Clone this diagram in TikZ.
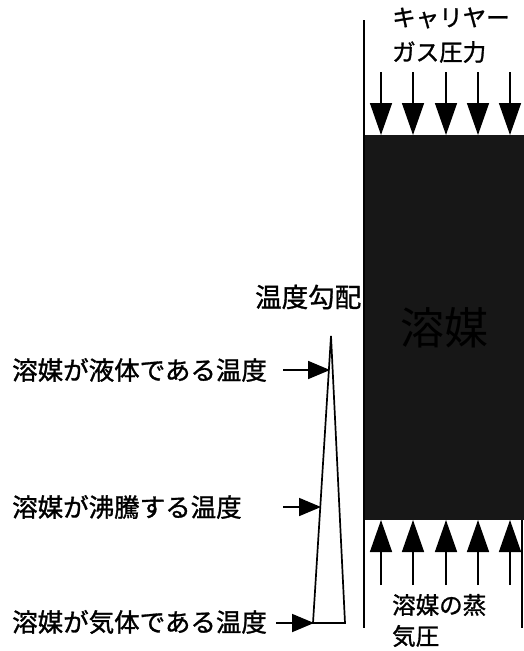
\documentclass[tikz,border=0pt]{standalone}
\usepackage{fontspec}
\setmainfont{Noto Sans CJK JP}[AutoFakeBold=1.2]
\usetikzlibrary{arrows.meta}
\begin{document}
\begin{tikzpicture}[x=1pt,y=-1pt,
  lbl/.style={inner sep=0pt,anchor=west,font=\fontsize{25.5}{28}\selectfont\bfseries},
  toplbl/.style={inner sep=0pt,anchor=west,font=\fontsize{23.5}{26}\selectfont\bfseries},
  bigarrow/.style={line width=1.5pt,-{Triangle[length=32pt,width=22pt]}},
  smallarrow/.style={line width=1.8pt,-{Triangle[length=22pt,width=18pt]}},
  wall/.style={line width=2pt}]
\useasboundingbox (0,0) rectangle (524,651);
% labels
\node[toplbl] (t1) at (392,18) {キャリヤー};
\node[toplbl] (t2) at (392,52) {ガス圧力};
\node[toplbl] (b1) at (392,605) {溶媒の蒸};
\node[toplbl] (b2) at (392,636) {気圧};
\node[inner sep=0pt,anchor=west,font=\fontsize{26.5}{29}\selectfont\bfseries] (grad) at (255,297) {温度勾配};
\node[lbl] (l1) at (12,370) {溶媒が液体である温度};
\node[lbl] (l2) at (12,507) {溶媒が沸騰する温度};
\node[lbl] (l3) at (12,622) {溶媒が気体である温度};
% block
\node[fill=black!91,draw=none,inner sep=0pt,minimum width=160pt,minimum height=385pt,
      font=\fontsize{44}{48}\selectfont,text=black] (block) at (444,327.5) {溶媒};
% walls
\coordinate (wt) at (364,20);
\coordinate (wb) at (364,628);
\draw[wall] (wt) -- (wb);
\coordinate (rt) at (522,520);
\coordinate (rb) at (522,628);
\draw[wall] (rt) -- (rb);
% top and bottom arrows
\foreach \x [count=\i] in {381,413,446,478,510}{
  \coordinate (ta\i) at (\x,72);
  \coordinate (tb\i) at (\x,135);
  \draw[bigarrow] (ta\i) -- (tb\i);
  \coordinate (ba\i) at (\x,585);
  \coordinate (bb\i) at (\x,520);
  \draw[bigarrow] (ba\i) -- (bb\i);
}
% temperature triangle
\coordinate (apex) at (331,336);
\coordinate (bl) at (313,623);
\coordinate (br) at (345,623);
\draw[line width=1.7pt,line join=miter] (apex) -- (br) -- (bl) -- cycle;
% left arrows
\coordinate (a1s) at (283,370); \coordinate (a1e) at (330,370);
\coordinate (a2s) at (283,507); \coordinate (a2e) at (321,507);
\coordinate (a3s) at (276,623); \coordinate (a3e) at (314,623);
\draw[smallarrow] (a1s) -- (a1e);
\draw[smallarrow] (a2s) -- (a2e);
\draw[smallarrow] (a3s) -- (a3e);
\end{tikzpicture}
\end{document}
